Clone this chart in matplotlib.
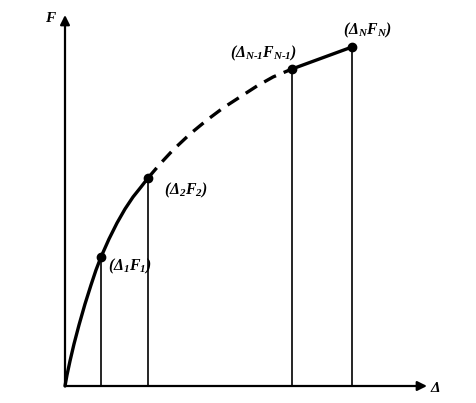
import matplotlib.pyplot as plt

plt.rcParams['mathtext.fontset'] = 'custom'
plt.rcParams['mathtext.rm'] = 'Liberation Serif:bold:italic'
plt.rcParams['mathtext.it'] = 'Liberation Serif:bold:italic'
plt.rcParams['mathtext.bf'] = 'Liberation Serif:bold:italic'

# curve (delta, F), split by line style
seg1_x = [0, 2, 5, 9, 14, 20, 26, 31, 36, 44, 52, 60, 68, 76, 83]
seg1_y = [0, 11, 25, 42, 61, 82, 101, 116, 129, 147, 163, 177, 189, 199, 208]
seg2_x = [83, 95, 108, 125, 142, 158, 175, 192, 208, 227]
seg2_y = [208, 222, 236, 252, 266, 278, 289, 300, 309, 317]
seg3_x = [227, 257, 287]
seg3_y = [317, 328, 339]

# marked points
pt_x = [36, 83, 227, 287]
pt_y = [129, 208, 317, 339]
pt_labels = [r'$(\Delta_1F_1)$', r'$(\Delta_2F_2)$',
             r'$(\Delta_{N\text{-}1}F_{N\text{-}1})$', r'$(\Delta_NF_N)$']
label_off = [(7, -9), (16, -12), (-62, 16), (-9, 17)]

fig = plt.figure(figsize=(4.77, 4.03), dpi=100)
ax = fig.add_axes([0, 0, 1, 1])
ax.set_xlim(-65, 412)
ax.set_ylim(-17, 386)
ax.axis('off')

# axes arrows
ax.annotate('', xy=(362, 0), xytext=(0, 0),
            arrowprops=dict(arrowstyle='-|>', lw=1.6, color='k', mutation_scale=14, shrinkA=0, shrinkB=0))
ax.annotate('', xy=(0, 371), xytext=(0, 0),
            arrowprops=dict(arrowstyle='-|>', lw=1.6, color='k', mutation_scale=14, shrinkA=0, shrinkB=0))
ax.text(-14, 369, r'$F$', fontsize=11, ha='center', va='center')
ax.text(370, -2, r'$\Delta$', fontsize=11, ha='center', va='center')

for x, y in zip(pt_x, pt_y):
    ax.plot([x, x], [0, y], color='k', lw=1.2)

ax.plot(seg1_x, seg1_y, color='k', lw=2.4, solid_capstyle='round', solid_joinstyle='round')
ax.plot(seg2_x, seg2_y, color='k', lw=2.4, dashes=(4, 2.5))
ax.plot(seg3_x, seg3_y, color='k', lw=2.4)
ax.plot(pt_x, pt_y, 'o', color='k', ms=6)

for x, y, s, (dx, dy) in zip(pt_x, pt_y, pt_labels, label_off):
    ax.text(x + dx, y + dy, s, fontsize=11.3, ha='left', va='center')

fig.savefig('out.png', dpi=100)
